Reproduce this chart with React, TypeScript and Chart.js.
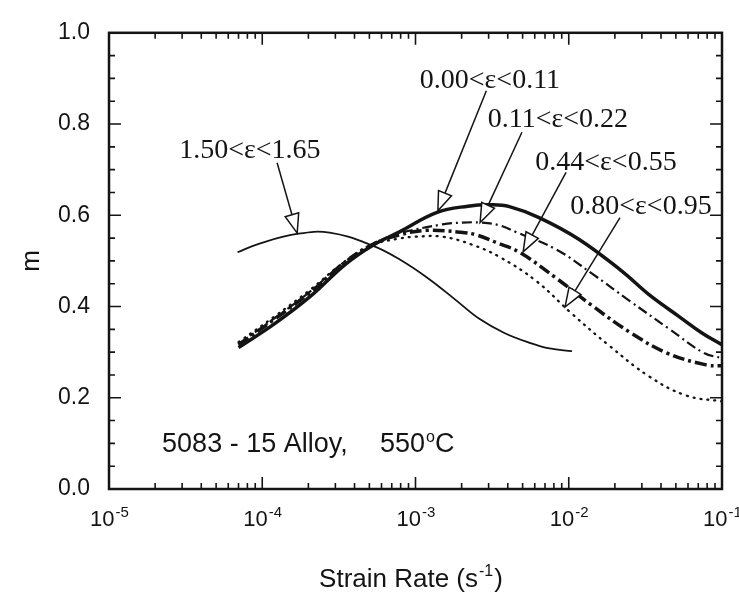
import { useEffect, useRef } from 'react';
import { Chart, registerables } from 'chart.js';

Chart.register(...registerables);

const INK = '#141414';
const SANS = '"Liberation Sans", Arial, sans-serif';
const SERIF = '"Liberation Serif", "Times New Roman", serif';

// ---- data ----
const seriesLabels = ['0.00<ε<0.11', '0.11<ε<0.22', '0.44<ε<0.55', '0.80<ε<0.95', '1.50<ε<1.65'];

const rateA = [7e-5, 1.2e-4, 2.04e-4, 3.5e-4, 5.25e-4, 7.8e-4, 1.37e-3, 2.2e-3, 3.1e-3, 4.1e-3, 6.4e-3, 1.17e-2, 2.23e-2, 3.34e-2, 5.25e-2, 7.4e-2, 0.1];
const mA = [0.31, 0.362, 0.421, 0.493, 0.534, 0.563, 0.606, 0.62, 0.623, 0.619, 0.595, 0.547, 0.477, 0.426, 0.378, 0.342, 0.316];

const rateB = [7e-5, 1.2e-4, 2.04e-4, 3.5e-4, 5.25e-4, 7.8e-4, 1.5e-3, 2.02e-3, 2.69e-3, 3.52e-3, 4.55e-3, 8.3e-3, 1.42e-2, 2.48e-2, 4.52e-2, 7.63e-2, 0.1];
const mB = [0.318, 0.374, 0.432, 0.5, 0.537, 0.56, 0.58, 0.584, 0.584, 0.578, 0.563, 0.525, 0.472, 0.413, 0.351, 0.298, 0.287];

const rateC = [7e-5, 1.2e-4, 2.04e-4, 3.5e-4, 5.25e-4, 7.87e-4, 1.18e-3, 1.94e-3, 2.5e-3, 3.37e-3, 4.76e-3, 8.3e-3, 1.42e-2, 2.55e-2, 4.38e-2, 7.87e-2, 0.1];
const mC = [0.316, 0.372, 0.43, 0.498, 0.536, 0.557, 0.567, 0.563, 0.557, 0.54, 0.519, 0.462, 0.402, 0.342, 0.298, 0.272, 0.27];

const rateD = [7e-5, 1.2e-4, 2.04e-4, 3.5e-4, 5.25e-4, 7.8e-4, 1.0e-3, 1.5e-3, 2.32e-3, 3.52e-3, 6.13e-3, 1.05e-2, 1.84e-2, 3.34e-2, 5.83e-2, 0.1];
const mD = [0.322, 0.378, 0.436, 0.5, 0.535, 0.549, 0.553, 0.553, 0.536, 0.509, 0.456, 0.384, 0.314, 0.247, 0.205, 0.192];

const rateE = [6.9e-5, 9.6e-5, 1.68e-4, 2.75e-4, 5.2e-4, 7.9e-4, 1.23e-3, 1.85e-3, 2.61e-3, 3.8e-3, 5.5e-3, 7.5e-3, 1.05e-2];
const mE = [0.519, 0.538, 0.559, 0.562, 0.534, 0.503, 0.46, 0.413, 0.373, 0.342, 0.321, 0.308, 0.302];

// annotation positions (data coordinates)
const labelX = [3.06e-3, 8.5e-3, 1.75e-2, 2.96e-2, 8.3e-5];
const labelY = [0.88, 0.793, 0.7, 0.603, 0.726];
const tailX = [2.9e-3, 4.95e-3, 9.6e-3, 2.16e-2, 1.25e-4];
const tailY = [0.873, 0.782, 0.694, 0.595, 0.715];
const tipX = [1.4e-3, 2.64e-3, 5.04e-3, 9.46e-3, 1.69e-4];
const tipY = [0.61, 0.584, 0.52, 0.399, 0.561];

const yTickLabels = ['0.0', '0.2', '0.4', '0.6', '0.8', '1.0'];
const xTickExponents = ['-5', '-4', '-3', '-2', '-1'];
const xTickBase = '10';

const alloyText = '5083 - 15 Alloy,';
const alloyPos = [2.22e-5, 0.082];
const tempText = '550';
const tempPos = [5.86e-4, 0.082];

const xTitle = 'Strain Rate (s';
const xTitleSup = '-1';
const yTitle = 'm';

const toPts = (xs: number[], ys: number[]) => xs.map((x, i) => ({ x, y: ys[i] }));

const overlay = {
  id: 'overlay',
  afterDraw(chart: any) {
    const { ctx, chartArea: a, scales } = chart;
    const xs = scales.x;
    const ys = scales.y;
    ctx.save();
    ctx.strokeStyle = INK;
    ctx.fillStyle = INK;

    // frame
    ctx.lineWidth = 2.5;
    ctx.strokeRect(a.left, a.top, a.right - a.left, a.bottom - a.top);

    // y inward ticks
    ctx.lineWidth = 1.6;
    for (let i = 0; i <= 20; i++) {
      const v = i * 0.05;
      const py = ys.getPixelForValue(v);
      const len = i % 4 === 0 ? 12 : 6;
      ctx.beginPath();
      ctx.moveTo(a.left, py); ctx.lineTo(a.left + len, py);
      ctx.moveTo(a.right, py); ctx.lineTo(a.right - len, py);
      ctx.stroke();
    }
    // x inward ticks
    for (let e = -5; e <= -1; e++) {
      for (let k = 1; k <= 9; k++) {
        const v = k * Math.pow(10, e);
        if (v > 0.1 * 1.0001) break;
        const px = xs.getPixelForValue(v);
        const len = k === 1 ? 12 : 6;
        ctx.beginPath();
        ctx.moveTo(px, a.bottom); ctx.lineTo(px, a.bottom - len);
        ctx.moveTo(px, a.top); ctx.lineTo(px, a.top + len);
        ctx.stroke();
      }
    }

    // x tick labels with superscripts
    xTickExponents.forEach((ex) => {
      const px = xs.getPixelForValue(Math.pow(10, Number(ex)));
      ctx.font = `22px ${SANS}`;
      const wb = ctx.measureText(xTickBase).width;
      ctx.font = `15px ${SANS}`;
      const we = ctx.measureText(ex).width;
      const start = px - (wb + we) / 2;
      const base = a.bottom + 37;
      ctx.textAlign = 'left';
      ctx.textBaseline = 'alphabetic';
      ctx.font = `22px ${SANS}`;
      ctx.fillText(xTickBase, start, base);
      ctx.font = `15px ${SANS}`;
      ctx.fillText(ex, start + wb + 1, base - 9);
    });

    // x title
    {
      ctx.font = `26px ${SANS}`;
      const w1 = ctx.measureText(xTitle).width;
      const w3 = ctx.measureText(')').width;
      ctx.font = `16px ${SANS}`;
      const w2 = ctx.measureText(xTitleSup).width;
      const cx = (a.left + a.right) / 2 - 5;
      const start = cx - (w1 + w2 + w3 + 1) / 2;
      const base = 587;
      ctx.textAlign = 'left';
      ctx.font = `26px ${SANS}`;
      ctx.fillText(xTitle, start, base);
      ctx.font = `16px ${SANS}`;
      ctx.fillText(xTitleSup, start + w1 + 1, base - 11);
      ctx.font = `26px ${SANS}`;
      ctx.fillText(')', start + w1 + w2 + 2, base);
    }

    // y title
    ctx.save();
    ctx.translate(32, (a.top + a.bottom) / 2);
    ctx.rotate(-Math.PI / 2);
    ctx.font = `26px ${SANS}`;
    ctx.textAlign = 'center';
    ctx.textBaseline = 'middle';
    ctx.fillText(yTitle, 0, 0);
    ctx.restore();

    // alloy text
    ctx.textAlign = 'left';
    ctx.textBaseline = 'alphabetic';
    ctx.font = `27px ${SANS}`;
    ctx.fillText(alloyText, xs.getPixelForValue(alloyPos[0]), ys.getPixelForValue(alloyPos[1]));
    {
      const tx = xs.getPixelForValue(tempPos[0]);
      const ty = ys.getPixelForValue(tempPos[1]);
      ctx.font = `27px ${SANS}`;
      const w = ctx.measureText(tempText).width;
      ctx.fillText(tempText, tx, ty);
      ctx.font = `16px ${SANS}`;
      const wo = ctx.measureText('o').width;
      ctx.fillText('o', tx + w + 1, ty - 10);
      ctx.font = `27px ${SANS}`;
      ctx.fillText('C', tx + w + wo + 1, ty);
    }

    // labels + arrows
    ctx.font = `28px ${SERIF}`;
    ctx.textAlign = 'center';
    seriesLabels.forEach((lab, i) => {
      ctx.fillStyle = INK;
      ctx.fillText(lab, xs.getPixelForValue(labelX[i]), ys.getPixelForValue(labelY[i]));
      const x0 = xs.getPixelForValue(tailX[i]);
      const y0 = ys.getPixelForValue(tailY[i]);
      const x1 = xs.getPixelForValue(tipX[i]);
      const y1 = ys.getPixelForValue(tipY[i]);
      const ang = Math.atan2(y1 - y0, x1 - x0);
      const L = 19, W = 7;
      const bx = x1 - L * Math.cos(ang);
      const by = y1 - L * Math.sin(ang);
      const nx = -Math.sin(ang), ny = Math.cos(ang);
      ctx.lineWidth = 1.5;
      ctx.beginPath();
      ctx.moveTo(x0, y0); ctx.lineTo(bx, by);
      ctx.stroke();
      ctx.beginPath();
      ctx.moveTo(x1, y1);
      ctx.lineTo(bx + W * nx, by + W * ny);
      ctx.lineTo(bx - W * nx, by - W * ny);
      ctx.closePath();
      ctx.fillStyle = '#ffffff';
      ctx.fill();
      ctx.stroke();
    });
    ctx.restore();
  },
};

export default function App() {
  const ref = useRef<HTMLCanvasElement>(null);
  useEffect(() => {
    if (!ref.current) return;
    const common = { pointRadius: 0, fill: false, tension: 0.4, borderColor: INK };
    const chart = new Chart(ref.current, {
      type: 'line',
      data: {
        datasets: [
          { ...common, label: seriesLabels[0], data: toPts(rateA, mA), borderWidth: 3.5 },
          { ...common, label: seriesLabels[1], data: toPts(rateB, mB), borderWidth: 2.2, borderDash: [10, 4, 2, 4] },
          { ...common, label: seriesLabels[2], data: toPts(rateC, mC), borderWidth: 3.5, borderDash: [12, 4, 3, 4] },
          { ...common, label: seriesLabels[3], data: toPts(rateD, mD), borderWidth: 2.3, borderDash: [1, 6], borderCapStyle: 'round' },
          { ...common, label: seriesLabels[4], data: toPts(rateE, mE), borderWidth: 1.8 },
        ] as any,
      },
      options: {
        responsive: false,
        animation: false,
        layout: { padding: { top: 15, right: 17, left: 0, bottom: 0 } },
        plugins: { legend: { display: false }, tooltip: { enabled: false } },
        scales: {
          x: {
            type: 'logarithmic',
            min: 1e-5,
            max: 1e-1,
            ticks: { display: false },
            grid: { display: false, drawTicks: false },
            border: { display: false },
            afterFit: (s: any) => { s.height = 107; },
          },
          y: {
            min: 0,
            max: 1,
            ticks: {
              stepSize: 0.2,
              callback: (_v: any, i: number) => yTickLabels[i],
              font: { family: 'Liberation Sans', size: 23 },
              color: INK,
              padding: 19,
            },
            grid: { display: false, drawTicks: false },
            border: { display: false },
            afterFit: (s: any) => { s.width = 109; },
          },
        },
      } as any,
      plugins: [overlay],
    });
    return () => chart.destroy();
  }, []);
  return (
    <div style={{ position: 'absolute', left: 0, top: 0, width: 739, height: 596, background: '#fff' }}>
      <canvas ref={ref} width={739} height={596} />
    </div>
  );
}
